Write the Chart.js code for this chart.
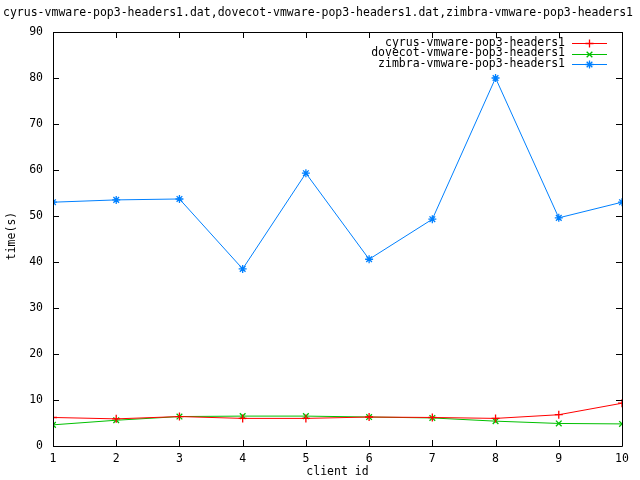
<!DOCTYPE html>
<html>
<head>
<meta charset="utf-8">
<script src="https://cdn.jsdelivr.net/npm/chart.js@4/dist/chart.umd.min.js"></script>
<style>
  html, body { margin: 0; padding: 0; background: #fff; }
  #wrap { width: 640px; height: 480px; }
</style>
</head>
<body>
<div id="wrap"><canvas id="chart" width="640" height="480"></canvas></div>
<script>
// データ
const clientIds = [1, 2, 3, 4, 5, 6, 7, 8, 9, 10];
const cyrusTimes   = [6.2, 5.9, 6.4, 6.0, 6.0, 6.3, 6.2, 6.0, 6.8, 9.3];
const dovecotTimes = [4.6, 5.6, 6.4, 6.5, 6.5, 6.3, 6.1, 5.4, 4.9, 4.8];
const zimbraTimes  = [53.0, 53.5, 53.7, 38.5, 59.3, 40.6, 49.3, 80.0, 49.6, 53.0];

const seriesNames = ["cyrus-vmware-pop3-headers1", "dovecot-vmware-pop3-headers1", "zimbra-vmware-pop3-headers1"];
// 右端で切れている
const titleText = "cyrus-vmware-pop3-headers1.dat,dovecot-vmware-pop3-headers1.dat,zimbra-vmware-pop3-headers1";
const xTitle = "client id";
const yTitle = "time(s)";

const FONT = "11.5px 'DejaVu Sans Mono', monospace";
const colors = ["#ff0000", "#00c000", "#0080ff"];
const styles = ["cross", "crossRot", "star"];

function toPoints(ys) {
  return clientIds.map((x, i) => ({ x, y: ys[i] }));
}

// 凡例のマーカー
function marker(ctx, style, x, y, r) {
  const d = r * Math.SQRT1_2;
  ctx.beginPath();
  if (style === "cross" || style === "star") {
    ctx.moveTo(x - r, y); ctx.lineTo(x + r, y);
    ctx.moveTo(x, y - r); ctx.lineTo(x, y + r);
  }
  if (style === "crossRot" || style === "star") {
    ctx.moveTo(x - d, y - d); ctx.lineTo(x + d, y + d);
    ctx.moveTo(x - d, y + d); ctx.lineTo(x + d, y - d);
  }
  ctx.stroke();
}

// 枠・目盛り・凡例・タイトル（gnuplot風）
const gnuplotDecor = {
  id: "gnuplotDecor",
  afterDraw(c) {
    const ctx = c.ctx;
    const a = c.chartArea;
    const xs = c.scales.x, ys = c.scales.y;
    const tick = 6;
    ctx.save();
    ctx.strokeStyle = "#000";
    ctx.lineWidth = 1;
    ctx.beginPath();
    ctx.rect(Math.round(a.left) + 0.5, Math.round(a.top) + 0.5,
             Math.round(a.right - a.left), Math.round(a.bottom - a.top));
    for (const v of clientIds) {
      const px = Math.round(xs.getPixelForValue(v)) + 0.5;
      ctx.moveTo(px, a.bottom); ctx.lineTo(px, a.bottom - tick);
      ctx.moveTo(px, a.top); ctx.lineTo(px, a.top + tick);
    }
    for (let v = 0; v <= 90; v += 10) {
      const py = Math.round(ys.getPixelForValue(v)) + 0.5;
      ctx.moveTo(a.left, py); ctx.lineTo(a.left + tick, py);
      ctx.moveTo(a.right, py); ctx.lineTo(a.right - tick, py);
    }
    ctx.stroke();

    ctx.fillStyle = "#000";
    ctx.font = FONT;
    ctx.textBaseline = "middle";
    ctx.textAlign = "left";
    ctx.fillText(titleText, 3, 13);

    ctx.textAlign = "center";
    ctx.fillText(xTitle, (a.left + a.right) / 2, 472);
    ctx.save();
    ctx.translate(12, 236);
    ctx.rotate(-Math.PI / 2);
    ctx.fillText(yTitle, 0, 0);
    ctx.restore();

    // 凡例
    const rows = [43, 53.5, 64];
    seriesNames.forEach((name, i) => {
      const y = Math.round(rows[i]) + 0.5;
      ctx.fillStyle = "#000";
      ctx.textAlign = "right";
      ctx.fillText(name, 565, rows[i]);
      ctx.strokeStyle = colors[i];
      ctx.lineWidth = 1;
      ctx.beginPath();
      ctx.moveTo(572, y);
      ctx.lineTo(607, y);
      ctx.stroke();
      ctx.lineWidth = 1.3;
      marker(ctx, styles[i], 589.5, y, 4);
    });
    ctx.restore();
  }
};

new Chart(document.getElementById("chart"), {
  type: "line",
  data: {
    datasets: seriesNames.map((name, i) => ({
      label: name,
      data: toPoints([cyrusTimes, dovecotTimes, zimbraTimes][i]),
      borderColor: colors[i],
      backgroundColor: colors[i],
      borderWidth: 1,
      pointStyle: styles[i],
      pointRadius: 4,
      pointBorderWidth: 1.3,
      pointBorderColor: colors[i],
      fill: false,
      tension: 0
    }))
  },
  options: {
    responsive: false,
    animation: false,
    layout: { padding: { left: 0, right: 18, top: 32, bottom: 0 } },
    plugins: { legend: { display: false }, tooltip: { enabled: false } },
    scales: {
      x: {
        type: "linear",
        min: 1, max: 10,
        grid: { display: false, drawTicks: false },
        border: { display: false },
        ticks: { stepSize: 1, color: "#000", font: { family: "'DejaVu Sans Mono', monospace", size: 11.5 }, padding: 6, maxRotation: 0 },
        afterFit(s) { s.height = 34; }
      },
      y: {
        min: 0, max: 90,
        grid: { display: false, drawTicks: false },
        border: { display: false },
        ticks: { stepSize: 10, color: "#000", font: { family: "'DejaVu Sans Mono', monospace", size: 11.5 }, padding: 10 },
        afterFit(s) { s.width = 53; }
      }
    }
  },
  plugins: [gnuplotDecor]
});
</script>
</body>
</html>
